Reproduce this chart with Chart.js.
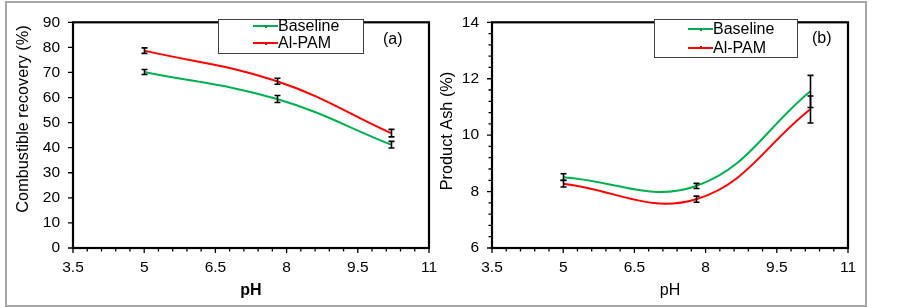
<!DOCTYPE html>
<html><head><meta charset="utf-8">
<script src="https://cdn.jsdelivr.net/npm/chart.js@4.4.0/dist/chart.umd.min.js"></script>
<style>
html,body{margin:0;padding:0;background:#fff;}
body{width:903px;height:307px;position:relative;overflow:hidden;font-family:"Liberation Sans",Arial,sans-serif;}
#frame{position:absolute;left:5px;top:1px;width:862px;height:306px;box-sizing:border-box;border:2px solid #a6a6a6;}
#wa{position:absolute;left:0;top:0;width:450px;height:307px;}
#wb{position:absolute;left:430px;top:0;width:473px;height:307px;}
.legend{position:absolute;border:1px solid #404040;background:#fff;box-sizing:border-box;z-index:5;}
.ll{position:absolute;height:2px;width:25px;z-index:6;}
.mk{position:absolute;width:2px;height:3px;z-index:7;}
.lt{position:absolute;font-size:16px;line-height:16px;color:#000;white-space:nowrap;z-index:6;}
.tag{position:absolute;font-size:16px;line-height:16px;color:#000;z-index:6;}
</style></head>
<body>
<div id="frame"></div>
<div id="wa"><canvas id="ca"></canvas></div>
<div id="wb"><canvas id="cb"></canvas></div>

<div class="legend" style="left:218px;top:19px;width:146px;height:35px;"></div>
<div class="ll" style="left:253px;top:25px;background:#00b050;"></div>
<div class="mk" style="left:265px;top:24.5px;background:#009040;"></div>
<div class="lt" style="left:278px;top:18px;">Baseline</div>
<div class="ll" style="left:253px;top:42px;background:#ff0000;"></div>
<div class="mk" style="left:265px;top:41.5px;background:#d00000;"></div>
<div class="lt" style="left:278px;top:35px;">Al-PAM</div>
<div class="tag" style="left:383px;top:31px;">(a)</div>

<div class="legend" style="left:654px;top:19px;width:144px;height:39px;"></div>
<div class="ll" style="left:688px;top:28px;background:#00b050;"></div>
<div class="mk" style="left:700px;top:27.5px;background:#009040;"></div>
<div class="lt" style="left:713px;top:21px;">Baseline</div>
<div class="ll" style="left:688px;top:46.5px;background:#ff0000;"></div>
<div class="mk" style="left:700px;top:46px;background:#d00000;"></div>
<div class="lt" style="left:713px;top:39.5px;">Al-PAM</div>
<div class="tag" style="left:812px;top:30px;">(b)</div>

<script>
// ---- data ----
const phValues = [5, 7.8, 10.2];
const seriesNames = ["Baseline", "Al-PAM"];
const recoveryBaseline = [70.2, 59.4, 41.2];
const recoveryBaselineErr = [1.0, 1.4, 1.3];
const recoveryAlPAM = [78.7, 66.5, 45.8];
const recoveryAlPAMErr = [1.1, 1.2, 1.5];
const ashBaseline = [8.51, 8.2, 11.55];
const ashBaselineErr = [0.12, 0.09, 0.57];
const ashAlPAM = [8.28, 7.73, 10.91];
const ashAlPAMErr = [0.12, 0.11, 0.48];
const xTickValues = [3.5, 5, 6.5, 8, 9.5, 11];
const recoveryTickValues = [0, 10, 20, 30, 40, 50, 60, 70, 80, 90];
const ashTickValues = [6, 8, 10, 12, 14];

const FONT = '"Liberation Sans", Arial, sans-serif';
const GREEN = '#00b050', RED = '#ff0000';

function pts(xs, ys){ return xs.map((x,i)=>({x:x, y:ys[i]})); }
function range(a,b,s){ const r=[]; for(let i=0;a+i*s<=b+1e-9;i++) r.push(+(a+i*s).toFixed(4)); return r; }

const decor = {
  id:'decor',
  afterDatasetsDraw(chart, args, o){
    const ctx=chart.ctx, xs=chart.scales.x, ys=chart.scales.y;
    ctx.save(); ctx.strokeStyle='#000'; ctx.lineWidth=1.6;
    chart.data.datasets.forEach(ds=>{
      ds.data.forEach((p,i)=>{
        const e=ds.errors[i]; const px=Math.round(xs.getPixelForValue(p.x))+0.5;
        const y1=ys.getPixelForValue(p.y+e), y2=ys.getPixelForValue(p.y-e);
        ctx.beginPath();
        ctx.moveTo(px,y1); ctx.lineTo(px,y2);
        ctx.moveTo(px-3,y1); ctx.lineTo(px+3,y1);
        ctx.moveTo(px-3,y2); ctx.lineTo(px+3,y2);
        ctx.stroke();
      });
    });
    ctx.restore();
  },
  afterDraw(chart, args, o){
    const ctx=chart.ctx, ca=chart.chartArea, xs=chart.scales.x, ys=chart.scales.y;
    ctx.save();
    ctx.strokeStyle='#000';
    // ticks
    ctx.lineWidth=1.3;
    ctx.beginPath();
    o.xMajor.forEach(v=>{const p=xs.getPixelForValue(v); ctx.moveTo(p,ca.bottom); ctx.lineTo(p,ca.bottom+5);});
    o.xMinor.forEach(v=>{const p=xs.getPixelForValue(v); ctx.moveTo(p,ca.bottom); ctx.lineTo(p,ca.bottom+3.5);});
    o.yMajor.forEach(v=>{const p=ys.getPixelForValue(v); ctx.moveTo(ca.left,p); ctx.lineTo(ca.left-5,p);});
    o.yMinor.forEach(v=>{const p=ys.getPixelForValue(v); ctx.moveTo(ca.left,p); ctx.lineTo(ca.left-3.5,p);});
    ctx.stroke();
    // box
    ctx.lineWidth=2.2;
    ctx.strokeRect(ca.left, ca.top, ca.right-ca.left, ca.bottom-ca.top);
    // titles
    ctx.fillStyle='#000';
    ctx.textAlign='center'; ctx.textBaseline='middle';
    ctx.font=(o.xBold?'bold ':'')+'16px '+FONT;
    ctx.fillText(o.xTitle, (ca.left+ca.right)/2, o.xTitleY);
    ctx.font='16.3px '+FONT;
    ctx.translate(o.yTitleX, o.yTitleY); ctx.rotate(-Math.PI/2);
    ctx.fillText(o.yTitle, 0, 0);
    ctx.restore();
  }
};

function makeChart(id, a){
  return new Chart(document.getElementById(id), {
    type:'line',
    data:{datasets:[
      {label:seriesNames[0], data:pts(phValues,a.base), errors:a.baseErr, borderColor:GREEN, backgroundColor:GREEN, borderWidth:2, pointRadius:0, tension:0.4, fill:false},
      {label:seriesNames[1], data:pts(phValues,a.pam), errors:a.pamErr, borderColor:RED, backgroundColor:RED, borderWidth:2, pointRadius:0, tension:0.4, fill:false}
    ]},
    options:{
      responsive:true, maintainAspectRatio:false, animation:false,
      layout:{padding:{left:0, top:a.top, right:a.right, bottom:0}},
      plugins:{legend:{display:false}, tooltip:{enabled:false},
        decor:{xMajor:xTickValues, xMinor:range(3.5,11,0.3), yMajor:a.yTicks, yMinor:a.yMinor,
               xTitle:'pH', xBold:a.xBold, xTitleY:291, yTitle:a.yTitle, yTitleX:a.yTitleX, yTitleY:a.yTitleY}},
      scales:{
        x:{type:'linear', min:3.5, max:11,
           grid:{display:false, drawTicks:false}, border:{display:false},
           ticks:{padding:10, color:'#000', autoSkip:false, maxRotation:0, font:{size:15.5, family:FONT}, callback:v=>String(v)},
           afterBuildTicks:s=>{s.ticks=xTickValues.map(v=>({value:v}));},
           afterFit:s=>{s.height=59;}},
        y:{type:'linear', min:a.yTicks[0], max:a.yTicks[a.yTicks.length-1],
           grid:{display:false, drawTicks:false}, border:{display:false},
           ticks:{padding:13, color:'#000', autoSkip:false, font:{size:15.5, family:FONT}, callback:v=>String(v)},
           afterBuildTicks:s=>{s.ticks=a.yTicks.map(v=>({value:v}));},
           afterFit:s=>{s.width=a.yWidth;}}
      }
    },
    plugins:[decor]
  });
}

makeChart('ca', {base:recoveryBaseline, baseErr:recoveryBaselineErr, pam:recoveryAlPAM, pamErr:recoveryAlPAMErr,
  yTicks:recoveryTickValues, yMinor:[], yTitle:'Combustible recovery (%)', yTitleX:24, yTitleY:119,
  xBold:true, top:15, right:21, yWidth:73});
makeChart('cb', {base:ashBaseline, baseErr:ashBaselineErr, pam:ashAlPAM, pamErr:ashAlPAMErr,
  yTicks:ashTickValues, yMinor:range(6,14,0.4), yTitle:'Product Ash (%)', yTitleX:18, yTitleY:131,
  xBold:false, top:16, right:55, yWidth:62});
</script>
</body></html>
